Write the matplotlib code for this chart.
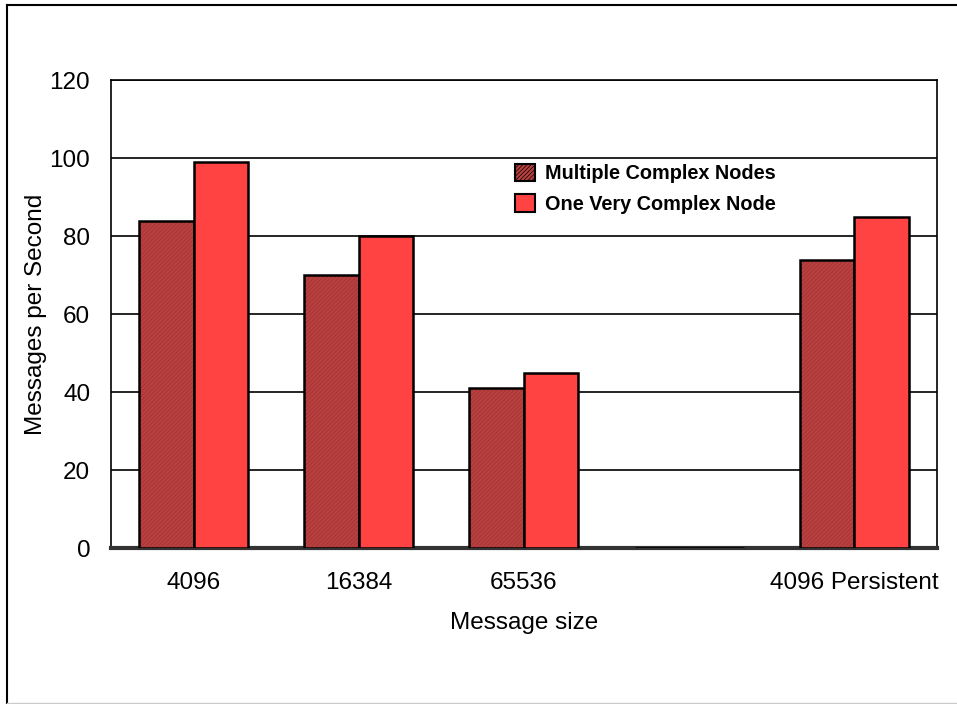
import numpy as np
import matplotlib.pyplot as plt
from matplotlib.lines import Line2D
from matplotlib.patches import Patch

categories = ['4096', '16384', '65536', '', '4096 Persistent']
multiple_nodes = [84, 70, 41, 0, 74]
one_node = [99, 80, 45, 0, 85]
series_labels = ['Multiple Complex Nodes', 'One Very Complex Node']

plt.rcParams['font.family'] = ['Liberation Sans', 'DejaVu Sans']
plt.rcParams['hatch.linewidth'] = 0.5

fig = plt.figure(figsize=(9.57, 7.04), dpi=100)
ax = fig.add_axes([0.116, 0.221, 0.863, 0.665])

x = np.arange(len(categories))
w = 0.33
c_multi = '#b8403f'
c_one = '#ff4343'

# textured bars: hatch drawn in a darker red, then a black outline on top
ax.bar(x - w / 2, multiple_nodes, w, color=c_multi, edgecolor='#a03234',
       hatch='////////', linewidth=0, zorder=3)
ax.bar(x - w / 2, multiple_nodes, w, fill=False, edgecolor='black',
       linewidth=1.8, zorder=4)
ax.bar(x + w / 2, one_node, w, color=c_one, edgecolor='black',
       linewidth=1.8, zorder=4)

ax.set_xlim(-0.5, len(categories) - 0.5)
ax.set_ylim(0, 120)
ax.set_yticks(np.arange(0, 121, 20))
ax.set_xticks(x)
ax.set_xticklabels(categories)
ax.tick_params(length=0, labelsize=17.5)
ax.tick_params(axis='x', pad=17)
ax.tick_params(axis='y', pad=15)
ax.yaxis.grid(True, color='black', linewidth=1.2)
ax.set_axisbelow(True)
for s in ['top', 'right', 'left']:
    ax.spines[s].set_linewidth(1.2)
ax.spines['bottom'].set_linewidth(3)
ax.spines['bottom'].set_color('#333333')

ax.set_xlabel('Message size', fontsize=17.5, labelpad=13)
ax.set_ylabel('Messages per Second', fontsize=17.5, labelpad=2)

handles = [Patch(facecolor=c_multi, edgecolor='black', hatch='////////', linewidth=1.5),
           Patch(facecolor=c_one, edgecolor='black', linewidth=1.5)]
ax.legend(handles, series_labels, loc='upper left', bbox_to_anchor=(0.489, 0.822),
          borderaxespad=0, borderpad=0,
          frameon=False, prop={'weight': 'bold', 'size': 14.3},
          handlelength=1.0, handleheight=1.0, handletextpad=0.5, labelspacing=0.55)

# outer frame of the figure
fig.add_artist(Line2D([0.0075, 0.0075], [0.0, 0.993], color='black', linewidth=1.5))
fig.add_artist(Line2D([0.0075, 1.0], [0.993, 0.993], color='black', linewidth=1.5))
fig.add_artist(Line2D([0.0075, 1.0], [0.002, 0.002], color='#cccccc', linewidth=1))

fig.savefig('out.png', dpi=100)
